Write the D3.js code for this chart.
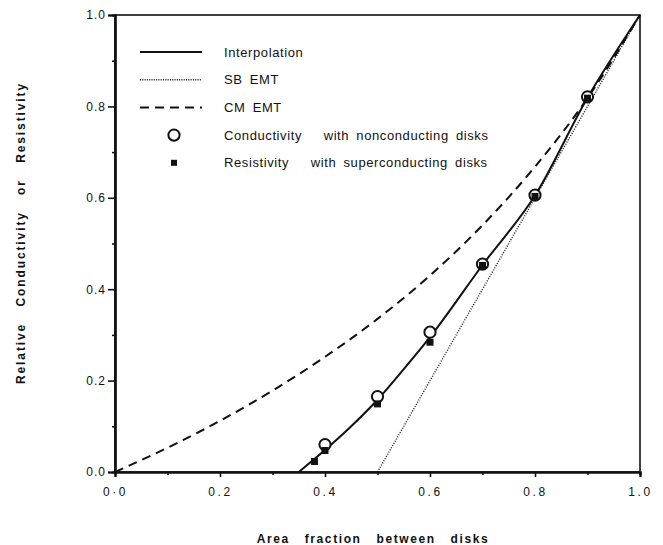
<!DOCTYPE html>
<html>
<head>
<meta charset="utf-8">
<script src="https://cdn.jsdelivr.net/npm/d3@7"></script>
<style>
  body { margin: 0; background: #fff; }
  svg text { font-family: "Liberation Sans", Arial, Helvetica, sans-serif; fill: #111; }
</style>
</head>
<body>
<div id="chart"></div>
<script>
// area fraction between disks (x) and relative conductivity/resistivity (y)
var interpX = [0.35, 0.40, 0.45, 0.50, 0.55, 0.60, 0.70, 0.80, 0.90, 1.00];
var interpY = [0.00, 0.048, 0.100, 0.158, 0.225, 0.295, 0.453, 0.605, 0.819, 1.00];

var sbX = [0.5, 1.0];
var sbY = [0.0, 1.0];

var cmX = [0.0, 0.1, 0.2, 0.3, 0.4, 0.5, 0.6, 0.7, 0.8, 0.9, 1.0];
var cmY = [0.0, 0.053, 0.112, 0.178, 0.252, 0.335, 0.43, 0.54, 0.668, 0.818, 1.0];

var condX = [0.40, 0.50, 0.60, 0.70, 0.80, 0.90];
var condY = [0.060, 0.165, 0.306, 0.455, 0.606, 0.821];

var resX = [0.38, 0.40, 0.50, 0.60, 0.70, 0.80, 0.90];
var resY = [0.023, 0.047, 0.149, 0.284, 0.452, 0.603, 0.818];

var xTicks = [0, 0.2, 0.4, 0.6, 0.8, 1.0];
var xTickLabels = ["0·0", "0.2", "0.4", "0.6", "0.8", "1.0"];
var yTicks = [0, 0.2, 0.4, 0.6, 0.8, 1.0];
var yTickLabels = ["0.0", "0.2", "0.4", "0.6", "0.8", "1.0"];

var W = 663, H = 545;
var margin = {top: 15, right: 23, bottom: 73, left: 115};
var width = W - margin.left - margin.right,
    height = H - margin.top - margin.bottom;

var svg = d3.select("#chart").append("svg")
    .attr("width", W)
    .attr("height", H);

var g = svg.append("g")
    .attr("transform", "translate(" + margin.left + "," + margin.top + ")");

var x = d3.scaleLinear().domain([0, 1]).range([0, width]);
var y = d3.scaleLinear().domain([0, 1]).range([height, 0]);

function pairs(xs, ys) {
  return xs.map(function(v, i) { return [v, ys[i]]; });
}

// frame
g.append("rect")
    .attr("width", width)
    .attr("height", height)
    .attr("fill", "none")
    .attr("stroke", "#111")
    .attr("stroke-width", 1.6);

// x axis - major and minor ticks
var xAxis = d3.axisBottom(x).tickValues(xTicks).tickSize(5)
    .tickFormat(function(d, i) { return xTickLabels[i]; });
var gx = g.append("g")
    .attr("transform", "translate(0," + height + ")")
    .call(xAxis);
gx.append("g").call(d3.axisBottom(x).tickValues([0.1, 0.3, 0.5, 0.7, 0.9]).tickSize(3).tickFormat(""));
gx.selectAll(".domain").attr("stroke-width", 2.2).attr("stroke", "#111");
gx.selectAll(".tick line").attr("stroke-width", 1.6).attr("stroke", "#111");
gx.selectAll(".tick text")
    .attr("y", 15)
    .style("font-size", "12px")
    .style("letter-spacing", "2.6px");

var yAxis = d3.axisLeft(y).tickValues(yTicks).tickSize(7)
    .tickFormat(function(d, i) { return yTickLabels[i]; });
var gy = g.append("g").call(yAxis);
gy.append("g").call(d3.axisLeft(y).tickValues([0.1, 0.3, 0.5, 0.7, 0.9]).tickSize(3).tickFormat(""));
gy.selectAll(".domain").attr("stroke-width", 2.2).attr("stroke", "#111");
gy.selectAll(".tick line").attr("stroke-width", 1.6).attr("stroke", "#111");
gy.selectAll(".tick text")
    .attr("x", -9)
    .style("font-size", "12px")
    .style("letter-spacing", "1px");

// axis titles
svg.append("text")
    .attr("x", 373)
    .attr("y", 543)
    .attr("text-anchor", "middle")
    .style("font-size", "12px")
    .style("font-weight", "bold")
    .style("letter-spacing", "1.6px")
    .style("word-spacing", "10px")
    .text("Area fraction between disks");

svg.append("text")
    .attr("transform", "translate(25,233) rotate(-90)")
    .attr("text-anchor", "middle")
    .style("font-size", "12px")
    .style("font-weight", "bold")
    .style("letter-spacing", "1.9px")
    .style("word-spacing", "11px")
    .text("Relative Conductivity or Resistivity");

var line = d3.line()
    .x(function(d) { return x(d[0]); })
    .y(function(d) { return y(d[1]); });

var curves = g.append("g");

// CM EMT dashed
curves.append("path")
    .datum(pairs(cmX, cmY))
    .attr("d", line.curve(d3.curveMonotoneX))
    .attr("fill", "none")
    .attr("stroke", "#111")
    .attr("stroke-width", 2)
    .attr("stroke-dasharray", "9,6");

// SB EMT dotted
curves.append("path")
    .datum(pairs(sbX, sbY))
    .attr("d", line.curve(d3.curveLinear))
    .attr("fill", "none")
    .attr("stroke", "#111")
    .attr("stroke-width", 1.4)
    .attr("stroke-dasharray", "1,1.5");

// interpolation solid
curves.append("path")
    .datum(pairs(interpX, interpY))
    .attr("d", line.curve(d3.curveMonotoneX))
    .attr("fill", "none")
    .attr("stroke", "#111")
    .attr("stroke-width", 2);

// conductivity circles
g.selectAll(".cond")
    .data(pairs(condX, condY))
  .enter().append("circle")
    .attr("class", "cond")
    .attr("cx", function(d) { return x(d[0]); })
    .attr("cy", function(d) { return y(d[1]); })
    .attr("r", 5.6)
    .attr("fill", "#fff")
    .attr("stroke", "#111")
    .attr("stroke-width", 2);

// resistivity squares
var sq = 7;
g.selectAll(".res")
    .data(pairs(resX, resY))
  .enter().append("rect")
    .attr("class", "res")
    .attr("x", function(d) { return x(d[0]) - sq / 2; })
    .attr("y", function(d) { return y(d[1]) - sq / 2; })
    .attr("width", sq)
    .attr("height", sq)
    .attr("fill", "#111");

// legend
var legendItems = [
  {label: "Interpolation", type: "solid"},
  {label: "SB EMT", type: "dotted"},
  {label: "CM EMT", type: "dashed"},
  {label: "Conductivity\u00a0\u00a0\u00a0with nonconducting disks", type: "circle"},
  {label: "Resistivity\u00a0\u00a0\u00a0with superconducting disks", type: "square"}
];

var legend = svg.selectAll(".legend")
    .data(legendItems)
  .enter().append("g")
    .attr("class", "legend")
    .attr("transform", function(d, i) { return "translate(140," + (52 + i * 27.7) + ")"; });

legend.each(function(d) {
  var l = d3.select(this);
  if (d.type == "solid" || d.type == "dotted" || d.type == "dashed") {
    l.append("line")
        .attr("x1", 0).attr("x2", 62)
        .attr("stroke", "#111")
        .attr("stroke-width", d.type == "dotted" ? 1.4 : 2)
        .attr("stroke-dasharray", d.type == "dotted" ? "1,1.3" : (d.type == "dashed" ? "9,6" : null));
  } else if (d.type == "circle") {
    l.append("circle")
        .attr("cx", 34).attr("r", 5.6)
        .attr("fill", "#fff").attr("stroke", "#111").attr("stroke-width", 2);
  } else {
    l.append("rect")
        .attr("x", 31).attr("y", -3).attr("width", 6).attr("height", 6)
        .attr("fill", "#111");
  }
});

legend.append("text")
    .attr("x", 84)
    .attr("dy", "0.35em")
    .style("font-size", "13px")
    .style("letter-spacing", "0.6px")
    .style("word-spacing", "3px")
    .text(function(d) { return d.label; });
</script>
</body>
</html>
